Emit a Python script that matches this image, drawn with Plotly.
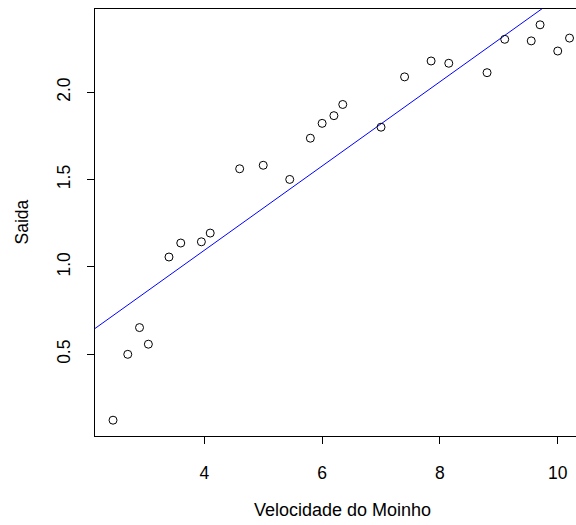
import numpy as np
import plotly.graph_objects as go

velocidade = [5.00, 6.00, 3.40, 2.70, 10.00, 9.70, 9.55, 3.05, 8.15, 6.20, 2.90, 6.35, 4.60,
              5.80, 7.40, 3.60, 7.85, 8.80, 7.00, 5.45, 9.10, 10.20, 4.10, 3.95, 2.45]
saida = [1.582, 1.822, 1.057, 0.500, 2.236, 2.386, 2.294, 0.558, 2.166, 1.866, 0.653, 1.930, 1.562,
         1.737, 2.088, 1.137, 2.179, 2.112, 1.800, 1.501, 2.303, 2.310, 1.194, 1.144, 0.123]
x_ticks = [4, 6, 8, 10]
y_ticks = [0.5, 1.0, 1.5, 2.0]

b1, b0 = np.polyfit(velocidade, saida, 1)
xr = [2.144, 10.31]
yr = [0.0325, 2.4765]
lx = [xr[0], 11.0]
ly = [b0 + b1 * v for v in lx]

fig = go.Figure()
fig.add_trace(go.Scatter(x=lx, y=ly, mode="lines", line=dict(color="blue", width=1), hoverinfo="skip"))
fig.add_trace(go.Scatter(x=velocidade, y=saida, mode="markers",
                         marker=dict(symbol="circle-open", size=8, color="black", line=dict(width=1, color="black"))))

font = dict(family="Liberation Sans, Arial, sans-serif", size=17.5, color="black")
tfont = dict(family="Liberation Sans, Arial, sans-serif", size=18, color="black")
fig.update_layout(
    width=576, height=525,
    margin=dict(l=95, r=0, t=9, b=89),
    paper_bgcolor="white", plot_bgcolor="white",
    showlegend=False, font=font,
    xaxis=dict(range=xr, tickvals=x_ticks, ticktext=[str(v) for v in x_ticks],
               showgrid=False, zeroline=False, showline=True, linecolor="black", linewidth=1,
               mirror=True, ticks="outside", ticklen=7, tickcolor="black", ticklabelstandoff=14),
    yaxis=dict(range=yr, tickvals=y_ticks, ticktext=["0.5", "1.0", "1.5", "2.0"],
               showgrid=False, zeroline=False, showline=True, linecolor="black", linewidth=1,
               ticks="outside", ticklen=7, tickcolor="black", tickangle=-90, ticklabelstandoff=10),
    annotations=[
        dict(text="Velocidade do Moinho", xref="paper", yref="paper", x=(342.7 - 95) / 481, y=-(510 - 436) / 427,
             showarrow=False, xanchor="center", yanchor="middle", font=tfont),
        dict(text="Saida", xref="paper", yref="paper", x=-(95 - 21) / 481, y=0.5, textangle=-90,
             showarrow=False, xanchor="center", yanchor="middle", font=font),
    ],
)
fig.write_html("out.html", config={"displayModeBar": False},
               post_script="document.body.style.margin='0px';document.body.style.overflow='hidden';")
